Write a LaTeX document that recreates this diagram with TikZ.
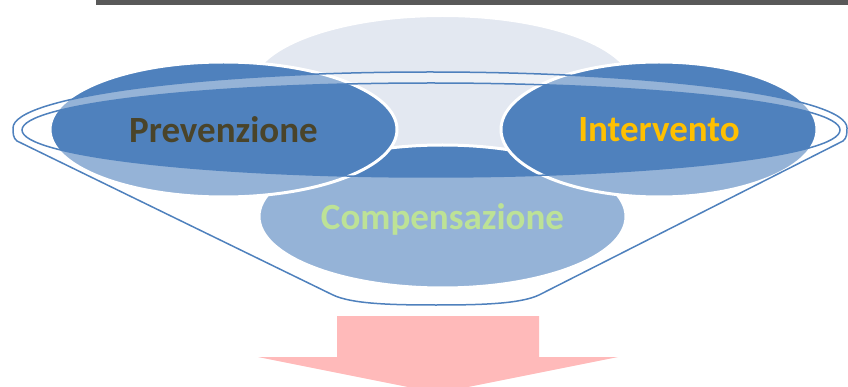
\documentclass[tikz,border=0pt]{standalone}
\usepackage{xcolor}
\usepackage{fontspec}
\setmainfont{Carlito}
\usetikzlibrary{shapes.geometric}

\definecolor{funnelblue}{HTML}{4F81BD}
\definecolor{paleblue}{HTML}{E3E8F1}
\definecolor{arrowpink}{HTML}{FFBABA}
\definecolor{bargray}{HTML}{595959}
\definecolor{prevtext}{HTML}{4A442A}
\definecolor{inttext}{HTML}{FFC000}
\definecolor{comptext}{HTML}{92D050}

\begin{document}
\begin{tikzpicture}[x=1pt, y=-1pt, bubble/.style={ellipse, draw=white, line width=3pt, fill=funnelblue, inner sep=0pt, text depth=0pt, font=\bfseries\fontsize{37}{37}\selectfont}, rim/.style={draw=funnelblue, line width=1.5pt, fill=white, fill opacity=0.4, even odd rule}]
    \useasboundingbox (0,0) rectangle (848,387);
    \clip (0,0) rectangle (848,387);
    \fill[bargray] (96,0) rectangle (848,5.5);
    % the three stages and the one behind them
    \node[bubble, fill=paleblue, minimum width=382pt, minimum height=143pt] (back) at (442.5,87) {};
    \node[bubble, text=comptext, minimum width=367pt, minimum height=143pt] (comp) at (442.5,216.5) {Compensazione};
    \node[bubble, text=prevtext, minimum width=347pt, minimum height=135pt] (prev) at (223.5,129.5) {Prevenzione};
    \node[bubble, text=inttext, minimum width=316pt, minimum height=135pt] (int) at (659,129.5) {Intervento};
    % funnel
    \draw[rim] (333,295) -- (17,141) .. controls (13,138) and (13,133) .. (13,128)
        arc[start angle=180, end angle=360, x radius=417, y radius=56]
        .. controls (847,133) and (847,138) .. (843,141) -- (539,295)
        .. controls (520,304) and (480,305) .. (436,305)
        .. controls (392,305) and (352,304) .. (333,295) -- cycle
        (431,130) ellipse [x radius=409, y radius=47];
    % output arrow
    \fill[arrowpink] (337,316) -- (539,316) -- (539,357) -- (618,357) -- (438,393) -- (258,357) -- (337,357) -- cycle;
\end{tikzpicture}
\end{document}
